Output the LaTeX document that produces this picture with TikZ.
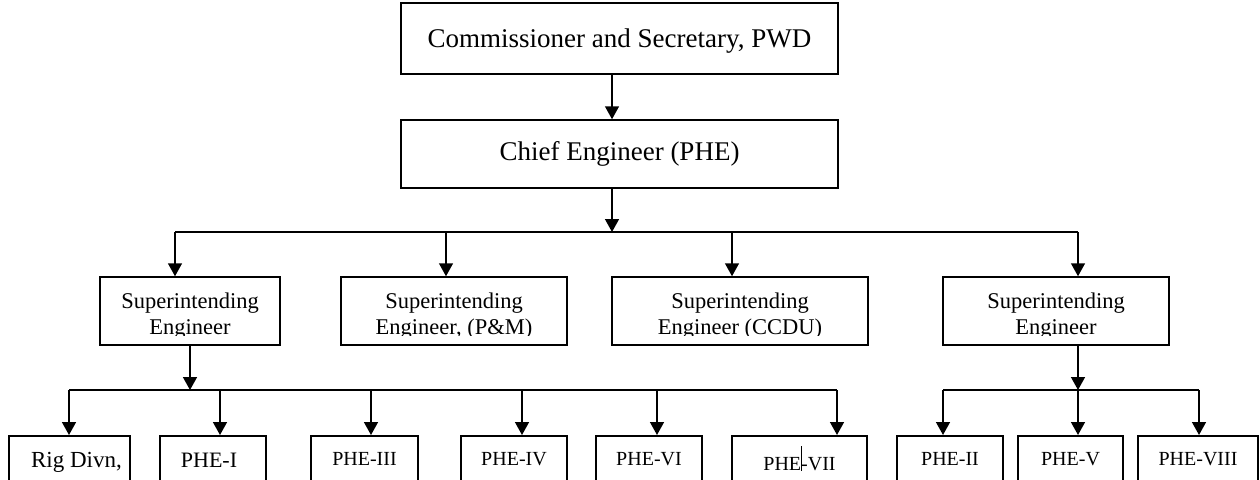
\documentclass[tikz,border=0pt]{standalone}
\usepackage{fontspec}
\setmainfont{Liberation Serif}
\usetikzlibrary{arrows.meta}

\begin{document}
\begin{tikzpicture}[x=1pt,y=-1pt,line width=1.5pt,
  arr/.style={-{Triangle[length=13pt,width=14pt]}},
  topbox/.style={draw,minimum width=437pt,inner sep=0pt,font=\fontsize{27}{32}\selectfont},
  sebox/.style={draw,minimum height=68pt,inner sep=0pt},
  setext/.style={inner sep=0pt,align=center,font=\fontsize{22.5}{26}\selectfont},
  leafbox/.style={draw,anchor=north,inner xsep=0pt,inner ysep=8pt,text height=22pt,text depth=40pt,font=\fontsize{20}{24}\selectfont}]
\useasboundingbox (0,0) rectangle (1260,479);
\clip (0,0) rectangle (1260,479);
% top of the chart
\draw (619.5,38.5) node[topbox,minimum height=71pt,text height=18pt,text depth=1pt](comm) {Commissioner and Secretary, PWD};
\draw (619.5,154) node[topbox,minimum height=68pt](chief) {Chief Engineer (PHE)};
\draw[arr] ([xshift=-7.5pt]comm.south) -- ([xshift=-7.5pt]chief.north);
% superintending engineers
\draw (190,311) node[sebox,minimum width=180pt](se1) {};
\draw (454,311) node[sebox,minimum width=226pt](se2) {};
\draw (740,311) node[sebox,minimum width=256pt](se3) {};
\draw (1056,311) node[sebox,minimum width=226pt](se4) {};
\begin{scope}
\clip (0,0) rectangle (1260,335);
\node[setext] (se1t) at (190,315.7) {Superintending\\Engineer};
\node[setext] (se2t) at (454,315.7) {Superintending\\Engineer, (P\&M)};
\node[setext] (se3t) at (740,315.7) {Superintending\\Engineer (CCDU)};
\node[setext] (se4t) at (1056,315.7) {Superintending\\Engineer};
\end{scope}
\coordinate (ce) at (612,232);
\coordinate (s1) at (175,232);
\coordinate (s2) at (446,232);
\coordinate (s3) at (732,232);
\coordinate (s4) at (1078,232);
\draw[arr] ([xshift=-7.5pt]chief.south) -- (ce);
\draw (s1) -- (s4);
\draw[arr] (s1) -- (s1 |- se1.north);
\draw[arr] (s2) -- (s2 |- se2.north);
\draw[arr] (s3) -- (s3 |- se3.north);
\draw[arr] (s4) -- (s4 |- se4.north);
% divisions under the first SE
\draw (69.5,435) node[leafbox,minimum width=121pt,text height=24pt,font=\fontsize{23}{27}\selectfont](rig) {\hspace*{14pt}Rig Divn,};
\draw (213,435) node[leafbox,minimum width=106pt,text height=24pt,font=\fontsize{22}{26}\selectfont](phe1) {PHE-I\hspace*{8pt}};
\draw (364.5,435) node[leafbox,minimum width=107pt](phe3) {PHE-III};
\draw (514,435) node[leafbox,minimum width=106pt](phe4) {PHE-IV};
\draw (649,435) node[leafbox,minimum width=106pt](phe6) {PHE-VI};
\draw (799.5,435) node[leafbox,minimum width=135pt,text height=27pt](phe7) {PHE\rlap{\kern-0.3pt\rule{0.6pt}{25pt}}-VII};
\coordinate (l0) at (190,390);
\coordinate (l1) at (69,390);
\coordinate (l2) at (220,390);
\coordinate (l3) at (371,390);
\coordinate (l4) at (522,390);
\coordinate (l5) at (657,390);
\coordinate (l6) at (837,390);
\draw[arr] (se1.south -| l0) -- (l0);
\draw (l1) -- (l6);
\draw[arr] (l1) -- (l1 |- rig.north);
\draw[arr] (l2) -- (l2 |- phe1.north);
\draw[arr] (l3) -- (l3 |- phe3.north);
\draw[arr] (l4) -- (l4 |- phe4.north);
\draw[arr] (l5) -- (l5 |- phe6.north);
\draw[arr] (l6) -- (l6 |- phe7.north);
% divisions under the last SE
\draw (950,435) node[leafbox,minimum width=106pt](phe2) {PHE-II};
\draw (1070.5,435) node[leafbox,minimum width=105pt](phe5) {PHE-V};
\draw (1198,435) node[leafbox,minimum width=120pt](phe8) {PHE-VIII};
\coordinate (r0) at (1078,390);
\coordinate (r1) at (943,390);
\coordinate (r2) at (1078,390);
\coordinate (r3) at (1199,390);
\draw[arr] (se4.south -| r0) -- (r0);
\draw (r1) -- (r3);
\draw[arr] (r1) -- (r1 |- phe2.north);
\draw[arr] (r2) -- (r2 |- phe5.north);
\draw[arr] (r3) -- (r3 |- phe8.north);
\end{tikzpicture}
\end{document}
